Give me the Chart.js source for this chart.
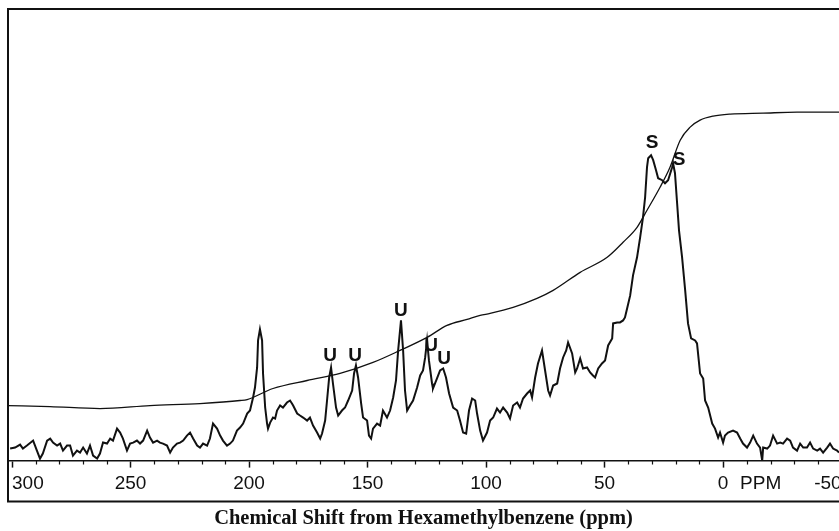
<!DOCTYPE html>
<html>
<head>
<meta charset="utf-8">
<title>13C NMR spectrum</title>
<script src="https://cdn.jsdelivr.net/npm/chart.js"></script>
<style>
  html, body { margin: 0; padding: 0; background: #fff; overflow: hidden; }
  #wrap { position: relative; width: 839px; height: 531px; }
</style>
</head>
<body>
<div id="wrap"><canvas id="spectrum"></canvas></div>
<script>
// ─── Spectrum trace (chemical shift in ppm, intensity in arbitrary units) ───
const SPECTRUM_PPM = [
  300.8, 298.7, 296.6, 295.4, 293.7, 291.1, 289.5, 288.2, 287.0, 285.2,
  283.9, 282.7, 281.0, 279.7, 278.5, 276.8, 275.5, 274.3, 272.6, 271.3,
  270.0, 268.4, 267.1, 265.8, 264.1, 262.9, 261.6, 259.9, 258.6, 257.4,
  255.7, 254.4, 253.2, 251.5, 250.2, 248.9, 247.3, 246.0, 244.7, 243.0,
  241.8, 240.5, 238.8, 237.6, 236.3, 234.6, 233.3, 232.1, 230.4, 229.1,
  227.8, 226.2, 224.9, 223.6, 221.9, 220.7, 219.4, 217.7, 216.5, 215.2,
  213.5, 212.2, 211.0, 209.3, 208.0, 206.8, 205.1, 203.8, 202.5, 200.8,
  199.6, 198.3, 197.5, 196.6, 196.2, 195.4, 194.5, 194.1, 193.2, 192.4,
  192.0, 191.1, 189.9, 189.0, 188.2, 186.9, 185.7, 184.0, 182.7, 181.9,
  181.4, 179.7, 178.5, 177.2, 175.5, 174.3, 173.0, 171.3, 170.0, 169.2,
  167.9, 167.1, 166.2, 165.4, 164.6, 163.3, 162.4, 160.8, 159.5, 158.2,
  156.5, 155.7, 154.9, 154.0, 152.7, 151.9, 150.2, 149.4, 148.5, 147.7,
  146.0, 144.7, 143.5, 141.8, 140.5, 139.2, 138.0, 137.1, 135.9, 135.0,
  134.2, 133.3, 132.1, 130.8, 129.1, 127.8, 126.6, 125.7, 124.9, 124.1,
  122.8, 122.4, 120.7, 119.4, 118.1, 116.9, 115.6, 113.9, 112.2, 111.0,
  109.7, 108.4, 107.2, 105.9, 104.6, 103.8, 102.5, 101.3, 99.6, 98.3,
  97.0, 95.4, 94.1, 92.8, 91.1, 89.9, 88.6, 86.9, 85.7, 84.4,
  82.7, 81.4, 80.6, 79.3, 78.1, 76.4, 75.1, 73.8, 73.0, 71.7,
  70.0, 68.8, 67.5, 66.2, 65.4, 63.7, 62.4, 61.6, 60.3, 59.1,
  57.4, 56.1, 54.9, 54.0, 52.7, 51.1, 49.8, 48.5, 46.8, 46.4,
  44.7, 43.5, 42.2, 41.4, 40.5, 39.2, 38.0, 36.3, 35.0, 33.8,
  32.9, 32.1, 31.6, 30.4, 29.5, 28.3, 27.4, 25.7, 24.5, 23.2,
  21.5, 21.1, 20.3, 19.4, 18.6, 17.3, 16.0, 14.8, 13.5, 11.8,
  11.0, 9.7, 8.4, 7.6, 6.3, 4.6, 3.4, 2.1, 1.3, 0,
  -0.8, -2.1, -4.2, -5.9, -7.2, -8.4, -10.1, -11.4, -12.7, -14.3,
  -15.6, -16.5, -16.9, -18.6, -19.8, -21.1, -22.8, -24.1, -25.3, -27.0,
  -28.3, -29.5, -31.2, -32.5, -33.8, -35.4, -36.7, -38.0, -39.7, -40.9,
  -42.2, -43.9, -45.1, -46.4, -48.1, -48.9,
];
const SPECTRUM_INTENSITY = [
  12, 13, 16, 12, 15, 20, 10, 2, 7, 20,
  22, 18, 15, 17, 10, 15, 15, 5, 10, 8,
  13, 7, 15, 5, 2, 7, 18, 17, 22, 20,
  32, 28, 22, 10, 17, 18, 20, 17, 20, 30,
  23, 18, 20, 18, 17, 15, 8, 13, 17, 18,
  20, 25, 28, 22, 15, 13, 17, 15, 22, 37,
  32, 25, 20, 15, 17, 20, 30, 33, 37, 47,
  50, 63, 73, 93, 120, 131, 120, 87, 53, 37,
  32, 38, 43, 42, 50, 55, 53, 58, 60, 57,
  55, 47, 45, 43, 40, 43, 35, 28, 22, 27,
  40, 60, 83, 93, 77, 53, 45, 50, 53, 60,
  70, 87, 95, 83, 57, 43, 40, 25, 22, 32,
  37, 35, 50, 43, 50, 63, 80, 110, 140, 110,
  70, 50, 55, 60, 73, 85, 90, 103, 120, 100,
  77, 72, 82, 90, 92, 83, 67, 53, 50, 40,
  28, 27, 50, 62, 60, 47, 30, 20, 28, 40,
  43, 52, 48, 53, 48, 42, 55, 58, 53, 62,
  67, 70, 63, 83, 97, 110, 90, 70, 65, 75,
  77, 92, 103, 110, 118, 107, 88, 92, 102, 92,
  93, 88, 85, 83, 92, 97, 100, 115, 122, 137,
  138, 138, 140, 143, 152, 165, 185, 203, 223, 243,
  263, 293, 302, 305, 300, 290, 282, 280, 277, 280,
  293, 297, 287, 257, 230, 203, 170, 137, 122, 120,
  117, 87, 82, 60, 53, 37, 32, 23, 28, 18,
  25, 28, 30, 28, 22, 17, 13, 18, 25, 17,
  13, 0, 13, 12, 15, 25, 17, 18, 17, 22,
  20, 13, 10, 17, 13, 13, 18, 12, 10, 12,
  8, 13, 17, 12, 10, 8,
];

// ─── Integral curve ──────────────────────────────────────────────────────────
const INTEGRAL_PPM = [
  301.7, 284.0, 262.9, 241.8, 220.7, 203.8, 200.8, 189.9, 175.5, 161.6,
  147.7, 136.3, 124.9, 116.5, 108.0, 102.5, 98.3, 88.6, 78.5, 71.7,
  60.3, 48.9, 42.2, 36.3, 32.1, 26.6, 22.4, 18.1, 13.9, 9.7,
  4.2, -3.0, -16.9, -31.2, -48.9,
];
const INTEGRAL_VALUE = [
  55, 54, 52, 55, 57, 60, 61, 72, 80, 87,
  98, 110, 123, 135, 141, 145, 147, 153, 162, 170,
  188, 203, 218, 233, 250, 273, 293, 320, 333, 340,
  344, 346, 347, 348, 348,
];

// ─── Peak assignments (U = unsaturated, S = saturated) ──────────────────────
const PEAK_TAGS = ['U', 'U', 'U', 'U', 'U', 'S', 'S'];
const TAG_PPM = [165.8, 155.3, 135.9, 123.2, 117.7, 30.0, 18.6];
const TAG_LEVEL = [105, 105, 150, 115, 102, 317, 300];

// ─── Axis ───────────────────────────────────────────────────────────────────
// Ascending order: with a reversed scale and 'inner' alignment the first
// tick (-50) is right-aligned and the last (300) left-aligned.
const MAJOR_TICKS = [-50, 0, 50, 100, 150, 200, 250, 300];
const MINOR_STEP = 10;
const PPM_RANGE = [-48.9, 301.7];
const UNIT_LABEL = 'PPM';
const X_TITLE = 'Chemical Shift from Hexamethylbenzene (ppm)';

const INK = '#111111';
const SANS = '"Liberation Sans", Arial, Helvetica, sans-serif';
const SERIF = '"Liberation Serif", "Times New Roman", Times, serif';
const TICK_LEN = 7;
const TICK_PAD = 5;
const TICK_FONT = 19;

const toPoints = (xs, ys) => xs.map((v, i) => ({ x: v, y: ys[i] }));

// Frame, minor ticks, unit label and peak letters.
const decorations = {
  id: 'decorations',
  afterDraw(chart) {
    const { ctx, chartArea } = chart;
    const { x, y } = chart.scales;
    ctx.save();
    ctx.strokeStyle = INK;
    ctx.fillStyle = INK;

    // minor ticks every 10 ppm
    ctx.lineWidth = 1.2;
    ctx.beginPath();
    for (let v = MAJOR_TICKS[0]; v <= MAJOR_TICKS[MAJOR_TICKS.length - 1]; v += MINOR_STEP) {
      if (v % 50 === 0) continue;
      const px = Math.round(x.getPixelForValue(v)) + 0.5;
      ctx.moveTo(px, chartArea.bottom);
      ctx.lineTo(px, chartArea.bottom + 4);
    }
    ctx.stroke();

    // outer box
    const frameBottom = chartArea.bottom + 41;
    ctx.lineWidth = 2;
    ctx.beginPath();
    ctx.moveTo(chart.width, chartArea.top);
    ctx.lineTo(chartArea.left, chartArea.top);
    ctx.lineTo(chartArea.left, frameBottom);
    ctx.lineTo(chart.width, frameBottom);
    ctx.stroke();

    // unit follows the zero label, on the tick-label line
    const labelTop = chartArea.bottom + TICK_LEN + TICK_PAD;
    ctx.font = TICK_FONT + 'px ' + SANS;
    ctx.textAlign = 'left';
    ctx.textBaseline = 'middle';
    ctx.fillText(UNIT_LABEL, x.getPixelForValue(0) + 17, labelTop + TICK_FONT * 0.6);

    // peak letters
    ctx.font = 'bold 19px ' + SANS;
    ctx.textAlign = 'center';
    ctx.textBaseline = 'middle';
    PEAK_TAGS.forEach((t, i) => {
      ctx.fillText(t, x.getPixelForValue(TAG_PPM[i]), y.getPixelForValue(TAG_LEVEL[i]));
    });
    ctx.restore();
  },
};

new Chart(document.getElementById('spectrum'), {
  type: 'line',
  data: {
    datasets: [
      {
        label: 'spectrum',
        data: toPoints(SPECTRUM_PPM, SPECTRUM_INTENSITY),
        borderColor: INK,
        borderWidth: 2,
        pointRadius: 0,
        tension: 0,
      },
      {
        label: 'integral',
        data: toPoints(INTEGRAL_PPM, INTEGRAL_VALUE),
        borderColor: INK,
        borderWidth: 1.3,
        pointRadius: 0,
        cubicInterpolationMode: 'monotone',
      },
    ],
  },
  options: {
    responsive: true,
    maintainAspectRatio: false,
    animation: false,
    layout: { padding: { top: 9, left: 8, right: 0, bottom: 0 } },
    plugins: { legend: { display: false }, tooltip: { enabled: false } },
    scales: {
      x: {
        type: 'linear',
        reverse: true,
        min: PPM_RANGE[0],
        max: PPM_RANGE[1],
        afterBuildTicks(scale) {
          scale.ticks = MAJOR_TICKS.map((v) => ({ value: v }));
        },
        // the -50 label is allowed to run off the edge, so no label padding
        afterFit(scale) {
          scale.paddingLeft = 0;
          scale.paddingRight = 0;
        },
        ticks: {
          autoSkip: false,
          maxRotation: 0,
          align: 'inner',
          padding: TICK_PAD,
          color: INK,
          font: { family: SANS, size: TICK_FONT },
          callback: (v) => String(v),
        },
        grid: {
          display: true,
          drawOnChartArea: false,
          drawTicks: true,
          tickLength: TICK_LEN,
          tickWidth: 1.5,
          tickColor: INK,
        },
        border: { display: true, color: INK, width: 1.5 },
        title: {
          display: true,
          text: X_TITLE,
          color: INK,
          font: { family: SERIF, size: 20.5, weight: 'bold' },
          padding: { top: 6, bottom: 0 },
        },
      },
      y: { display: false, min: 0, max: 451 },
    },
  },
  plugins: [decorations],
});
</script>
</body>
</html>
